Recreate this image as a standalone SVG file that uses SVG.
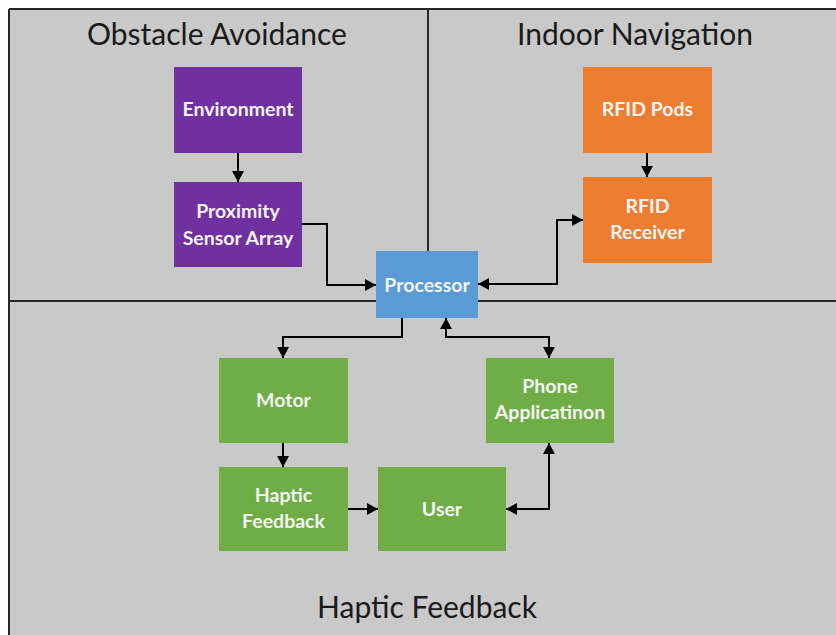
<svg xmlns="http://www.w3.org/2000/svg" width="836" height="635" viewBox="0 0 836 635">
  <style>
    .title { font-family: Lato, "Open Sans", "Liberation Sans", sans-serif; font-size: 30px; fill: #1a1a1a; text-anchor: middle; }
    .lbl { font-family: Lato, "Open Sans", "Liberation Sans", sans-serif; font-size: 19.5px; font-weight: bold; fill: #f4f4f4; text-anchor: middle; }
    .purple { fill: #7030a0; }
    .orange { fill: #ed7d31; }
    .blue { fill: #5b9bd5; }
    .green { fill: #70ad47; }
    .conn path { fill: none; stroke: #000; stroke-width: 2; }
    .divider { stroke: #262626; stroke-width: 2; fill: none; }
  </style>
  <defs>
    <marker id="arr" markerUnits="userSpaceOnUse" markerWidth="11" markerHeight="12" refX="11" refY="6" orient="auto-start-reverse">
      <path d="M0,0 L11,6 L0,12 z" fill="#000"/>
    </marker>
  </defs>
  <rect x="0" y="0" width="836" height="635" fill="#ffffff"/>
  <rect x="9" y="9" width="827" height="626" fill="#c9c9c9"/>
  <g id="frame">
    <path class="divider" d="M9,9 H836 M9,9 V635"/>
    <path class="divider" d="M428,9 V251"/>
    <path class="divider" d="M9,301 H376 M478,301 H836"/>
  </g>
  <g id="titles">
    <text class="title" x="217" y="45">Obstacle Avoidance</text>
    <text class="title" x="635" y="45">Indoor Navigation</text>
    <text class="title" x="427" y="618">Haptic Feedback</text>
  </g>
  <g class="conn" id="connectors">
    <path d="M238,153 V182" marker-end="url(#arr)"/>
    <path d="M302,224 H327 V285 H376" marker-end="url(#arr)"/>
    <path d="M478,284 H557 V220 H583" marker-start="url(#arr)" marker-end="url(#arr)"/>
    <path d="M647,153 V177" marker-end="url(#arr)"/>
    <path d="M402,318 V337 H283 V358" marker-end="url(#arr)"/>
    <path d="M446,318 V337 H549 V358" marker-start="url(#arr)" marker-end="url(#arr)"/>
    <path d="M283,443 V467" marker-end="url(#arr)"/>
    <path d="M348,509 H378" marker-end="url(#arr)"/>
    <path d="M506,509 H549 V443" marker-start="url(#arr)" marker-end="url(#arr)"/>
  </g>
  <g id="environment">
    <rect class="purple" x="174" y="67" width="128" height="86"/>
    <text class="lbl" x="238" y="116">Environment</text>
  </g>
  <g id="proximity-sensor-array">
    <rect class="purple" x="174" y="182" width="128" height="85"/>
    <text class="lbl" x="238" y="218">Proximity</text>
    <text class="lbl" x="238" y="245">Sensor Array</text>
  </g>
  <g id="processor">
    <rect class="blue" x="376" y="251" width="102" height="67"/>
    <text class="lbl" x="427" y="292">Processor</text>
  </g>
  <g id="rfid-pods">
    <rect class="orange" x="583" y="67" width="129" height="86"/>
    <text class="lbl" x="647.5" y="116">RFID Pods</text>
  </g>
  <g id="rfid-receiver">
    <rect class="orange" x="583" y="177" width="129" height="86"/>
    <text class="lbl" x="647.5" y="213">RFID</text>
    <text class="lbl" x="647.5" y="239">Receiver</text>
  </g>
  <g id="motor">
    <rect class="green" x="219" y="358" width="129" height="85"/>
    <text class="lbl" x="283.5" y="407">Motor</text>
  </g>
  <g id="phone-application">
    <rect class="green" x="486" y="358" width="128" height="85"/>
    <text class="lbl" x="550" y="393">Phone</text>
    <text class="lbl" x="550" y="419">Applicatinon</text>
  </g>
  <g id="haptic-feedback">
    <rect class="green" x="219" y="467" width="129" height="84"/>
    <text class="lbl" x="283.5" y="502">Haptic</text>
    <text class="lbl" x="283.5" y="528">Feedback</text>
  </g>
  <g id="user">
    <rect class="green" x="378" y="467" width="128" height="84"/>
    <text class="lbl" x="442" y="516">User</text>
  </g>
</svg>
